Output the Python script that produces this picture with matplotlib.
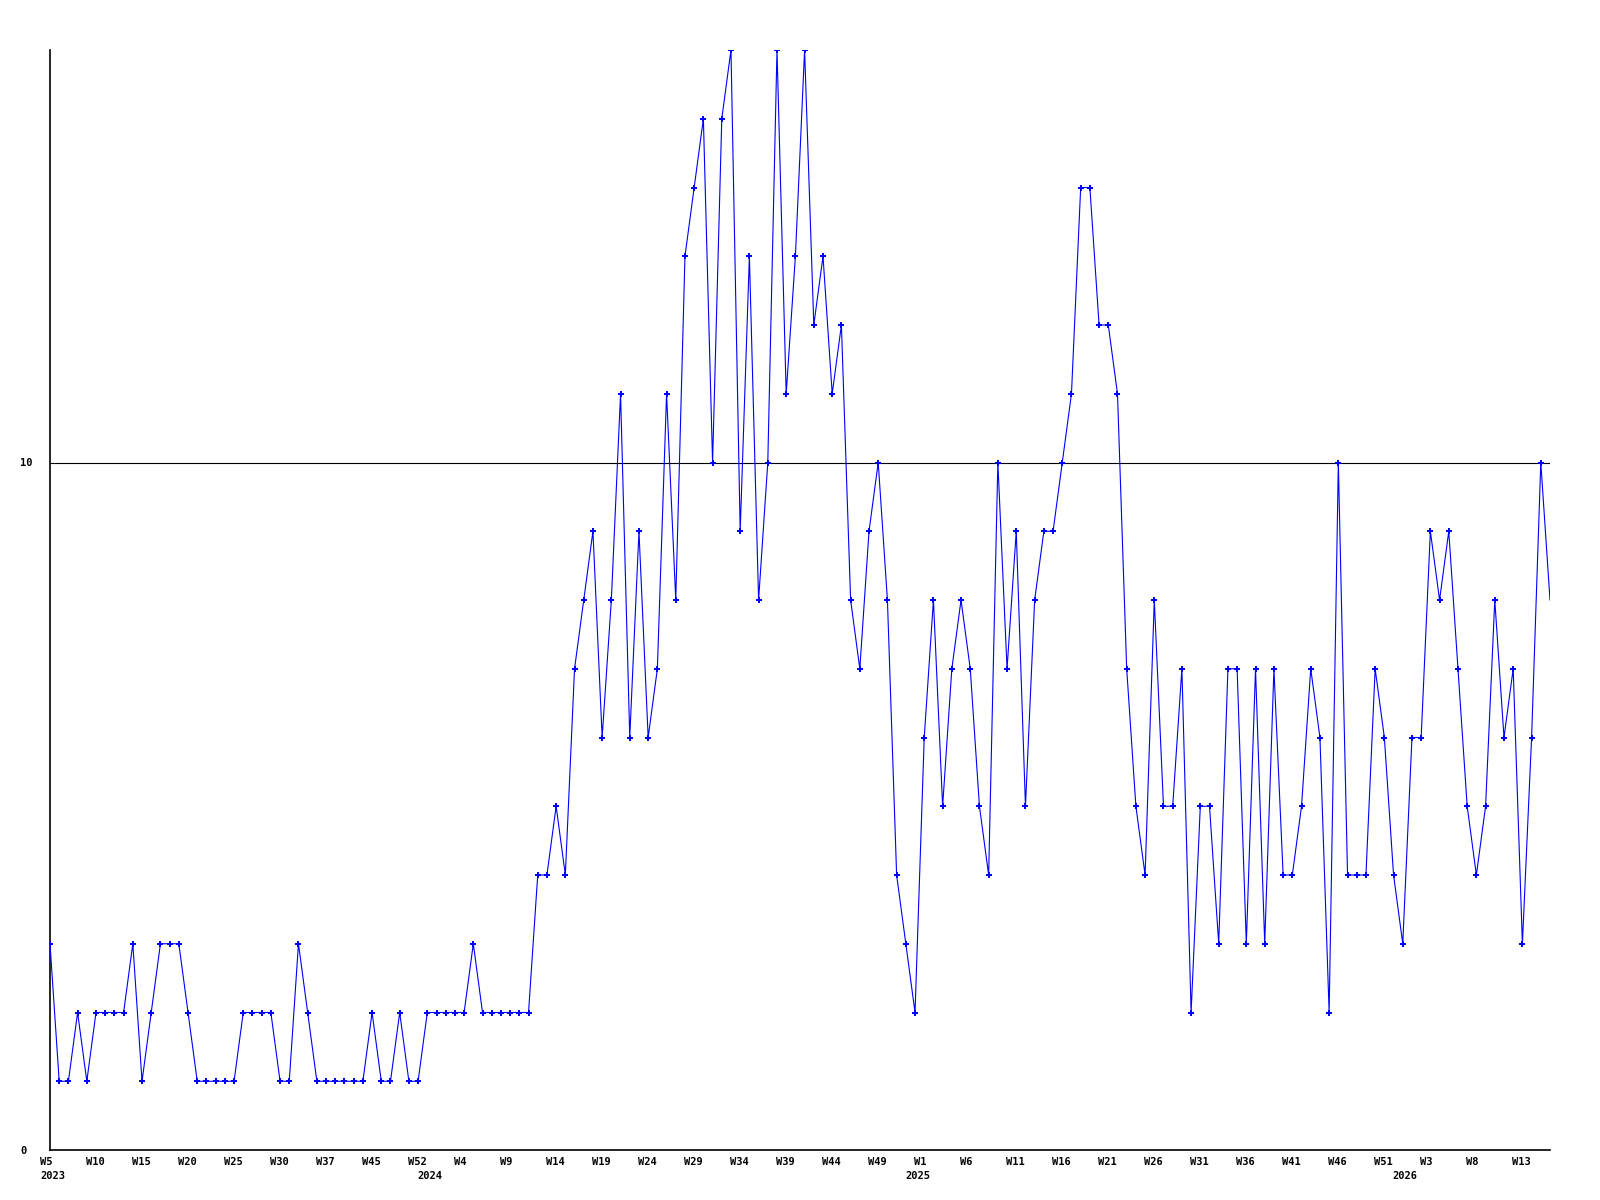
import numpy as np
import matplotlib
matplotlib.use('Agg')
import matplotlib.pyplot as plt
from matplotlib.transforms import ScaledTranslation

# weekly counts, one per point
values = [3, 1, 1, 2, 1, 2, 2, 2, 2, 3,
          1, 2, 3, 3, 3, 2, 1, 1, 1, 1,
          1, 2, 2, 2, 2, 1, 1, 3, 2, 1,
          1, 1, 1, 1, 1, 2, 1, 1, 2, 1,
          1, 2, 2, 2, 2, 2, 3, 2, 2, 2,
          2, 2, 2, 4, 4, 5, 4, 7, 8, 9,
          6, 8, 11, 6, 9, 6, 7, 11, 8, 13,
          14, 15, 10, 15, 16, 9, 13, 8, 10, 16,
          11, 13, 16, 12, 13, 11, 12, 8, 7, 9,
          10, 8, 4, 3, 2, 6, 8, 5, 7, 8,
          7, 5, 4, 10, 7, 9, 5, 8, 9, 9,
          10, 11, 14, 14, 12, 12, 11, 7, 5, 4,
          8, 5, 5, 7, 2, 5, 5, 3, 7, 7,
          3, 7, 3, 7, 4, 4, 5, 7, 6, 2,
          10, 4, 4, 4, 7, 6, 4, 3, 6, 6,
          9, 8, 9, 7, 5, 4, 5, 8, 6, 7,
          3, 6, 10, 8]

week_labels = ['W5', 'W10', 'W15', 'W20', 'W25', 'W30', 'W37', 'W45', 'W52',
               'W4', 'W9', 'W14', 'W19', 'W24', 'W29', 'W34', 'W39', 'W44', 'W49',
               'W1', 'W6', 'W11', 'W16', 'W21', 'W26', 'W31', 'W36', 'W41', 'W46',
               'W51', 'W3', 'W8', 'W13']
years = ['2023', '2024', '2025', '2026']
year_pos = [0, 41, 94, 147]

x = np.arange(len(values))

fig = plt.figure(figsize=(16, 12), dpi=100)
ax = fig.add_axes([50 / 1600, 50 / 1200, 1500 / 1600, 1100 / 1200])

ax.axhline(10, color='black', lw=0.8, zorder=1)
ax.plot(x, values, color='#0000ff', lw=0.8, marker='P', ms=3.8, mew=0,
        markevery=slice(0, len(values) - 1), zorder=3)

ax.set_xlim(0, len(values) - 1)
ax.set_ylim(0, 16)

for s in ['top', 'right']:
    ax.spines[s].set_visible(False)
for s in ['left', 'bottom']:
    ax.spines[s].set_linewidth(1.2)

font = dict(family='DejaVu Sans Mono', weight='bold', size=7.5)

ax.set_yticks([0, 10])
ax.set_yticklabels(['0', '10'], ha='left', **font)
ax.tick_params(axis='y', length=0, pad=21.6)

ax.set_xticks(x[::5][:len(week_labels)])
ax.set_xticklabels(week_labels, ha='left', **font)
ax.tick_params(axis='x', length=0, pad=5)
shift = ScaledTranslation(-10 / 100, 0, fig.dpi_scale_trans)
for lab in ax.get_xticklabels():
    lab.set_transform(lab.get_transform() + shift)

# year under the first week of each year
for yr, p in zip(years, year_pos):
    ax.annotate(yr, xy=(p, 0), xycoords=('data', 'axes fraction'),
                xytext=(-7.2, -18.7), textcoords='offset points',
                ha='left', va='center', **font)

fig.savefig('out.png', dpi=100)
